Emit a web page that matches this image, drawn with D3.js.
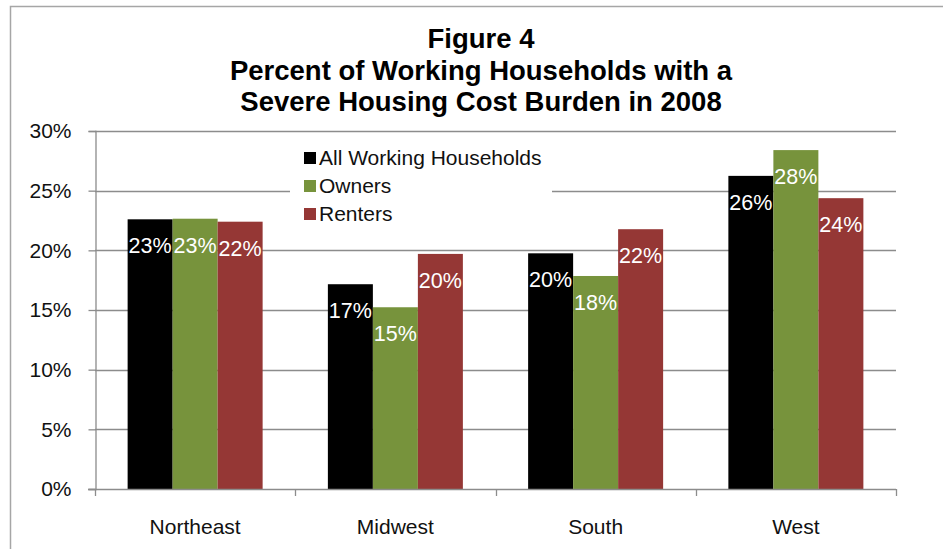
<!DOCTYPE html>
<html>
<head>
<meta charset="utf-8">
<script src="https://cdn.jsdelivr.net/npm/d3@7"></script>
<style>
  body { margin: 0; background: #fff; }
  text { font-family: "Liberation Sans", Arial, sans-serif; }
</style>
</head>
<body>
<script>
// chart data
var regions = ["Northeast", "Midwest", "South", "West"]
var series = ["All Working Households", "Owners", "Renters"]
var allWorking = [0.226, 0.1716, 0.1975, 0.2624]
var owners = [0.2265, 0.1523, 0.1785, 0.284]
var renters = [0.224, 0.197, 0.2177, 0.2437]
var yTicks = [0, 0.05, 0.10, 0.15, 0.20, 0.25, 0.30]
var colors = ["#000000", "#77933c", "#953735"]
var titleLines = ["Figure 4", "Percent of Working Households with a", "Severe Housing Cost Burden in 2008"]

var width = 943
var height = 549
var plotLeft = 95
var plotRight = 896
var plotTop = 131
var plotBottom = 489

var svg = d3.select("body")
    .append("svg")
    .attr("width", width)
    .attr("height", height)

// outer frame (cropped on right and bottom)
svg.append("path")
    .attr("d", "M10.5," + height + "V6.5H" + width)
    .attr("fill", "none")
    .attr("stroke", "#a6a6a6")
    .attr("stroke-width", 1.5)

var x0 = d3.scaleBand().domain(regions).range([plotLeft, plotRight])
var x1 = d3.scaleBand().domain(series).range([0, x0.bandwidth()])
    .paddingInner(0).paddingOuter(0.725)
var y = d3.scaleLinear().domain([0, 0.30]).range([plotBottom, plotTop])

// gridlines
svg.append("g")
    .selectAll("line")
    .data(yTicks.slice(1))
    .enter()
    .append("line")
    .attr("x1", plotLeft)
    .attr("x2", plotRight)
    .attr("y1", function(d) { return Math.round(y(d)) + 0.5 })
    .attr("y2", function(d) { return Math.round(y(d)) + 0.5 })
    .attr("stroke", "#8c8c8c")
    .attr("stroke-width", 1.3)

// y axis
var yAxis = d3.axisLeft(y)
    .tickValues(yTicks)
    .tickFormat(d3.format(".0%"))
    .tickSize(7)
    .tickPadding(17)
svg.append("g")
    .attr("transform", "translate(" + (plotLeft + 0.5) + ",0)")
    .call(yAxis)
    .call(function(g) {
        g.select(".domain").attr("stroke", "#8c8c8c").attr("stroke-width", 1.3)
        g.selectAll(".tick line").attr("stroke", "#8c8c8c").attr("stroke-width", 1.3)
        g.selectAll(".tick text")
          .attr("fill", "#111")
          .style("font-size", "21px")
          .style("font-family", "'Liberation Sans', Arial, sans-serif")
    })

// legend background box
var legendX = 304
var legendY = 152
svg.append("rect")
    .attr("x", 290)
    .attr("y", 140)
    .attr("width", 262)
    .attr("height", 92)
    .attr("fill", "#fff")

// bars
var table = regions.map(function(r, i) {
    return [allWorking[i], owners[i], renters[i]].map(function(v, j) {
        return {region: r, series: series[j], value: v, color: colors[j]}
    })
})

var groups = svg.append("g")
    .selectAll("g")
    .data(table)
    .enter()
    .append("g")
    .attr("transform", function(d, i) { return "translate(" + x0(regions[i]) + ",0)" })

groups.selectAll("rect")
    .data(function(d) { return d })
    .enter()
    .append("rect")
    .attr("x", function(d) { return x1(d.series) })
    .attr("y", function(d) { return y(d.value) })
    .attr("width", x1.bandwidth())
    .attr("height", function(d) { return plotBottom - y(d.value) })
    .attr("fill", function(d) { return d.color })

groups.selectAll("text")
    .data(function(d) { return d })
    .enter()
    .append("text")
    .attr("x", function(d) { return x1(d.series) + x1.bandwidth() / 2 })
    .attr("y", function(d) { return y(d.value) + 34 })
    .attr("text-anchor", "middle")
    .attr("fill", "#fff")
    .style("font-size", "21.5px")
    .text(function(d) { return d3.format(".0%")(d.value) })

// x axis
var xAxis = d3.axisBottom(x0).tickSize(0).tickPadding(30)
svg.append("g")
    .attr("transform", "translate(0," + plotBottom + ")")
    .call(xAxis)
    .call(function(g) {
        g.select(".domain").remove()
        g.selectAll(".tick text")
          .attr("fill", "#111")
          .style("font-size", "21px")
          .style("font-family", "'Liberation Sans', Arial, sans-serif")
    })
svg.append("line")
    .attr("x1", plotLeft - 7)
    .attr("x2", plotRight)
    .attr("y1", plotBottom + 0.5)
    .attr("y2", plotBottom + 0.5)
    .attr("stroke", "#8c8c8c")
    .attr("stroke-width", 1.3)
var boundaries = regions.map(function(r) { return x0(r) }).concat([plotRight])
svg.append("g")
    .selectAll("line")
    .data(boundaries)
    .enter()
    .append("line")
    .attr("x1", function(d) { return Math.round(d) + 0.5 })
    .attr("x2", function(d) { return Math.round(d) + 0.5 })
    .attr("y1", plotBottom)
    .attr("y2", plotBottom + 7)
    .attr("stroke", "#8c8c8c")
    .attr("stroke-width", 1.3)

// legend
var legend = svg.append("g")
    .selectAll("g")
    .data(series)
    .enter()
    .append("g")
    .attr("transform", function(d, i) { return "translate(" + legendX + "," + (legendY + i * 28) + ")" })
legend.append("rect")
    .attr("width", 12)
    .attr("height", 12)
    .attr("fill", function(d, i) { return colors[i] })
legend.append("text")
    .attr("x", 15)
    .attr("y", 13)
    .attr("fill", "#111")
    .style("font-size", "21px")
    .text(function(d) { return d })

// title
svg.append("text")
    .attr("x", 481)
    .attr("text-anchor", "middle")
    .style("font-size", "27.5px")
    .style("font-weight", "bold")
    .attr("fill", "#000")
    .selectAll("tspan")
    .data(titleLines)
    .enter()
    .append("tspan")
    .attr("x", 481)
    .attr("y", function(d, i) { return 48 + i * 31.7 })
    .text(function(d) { return d })
</script>
</body>
</html>
